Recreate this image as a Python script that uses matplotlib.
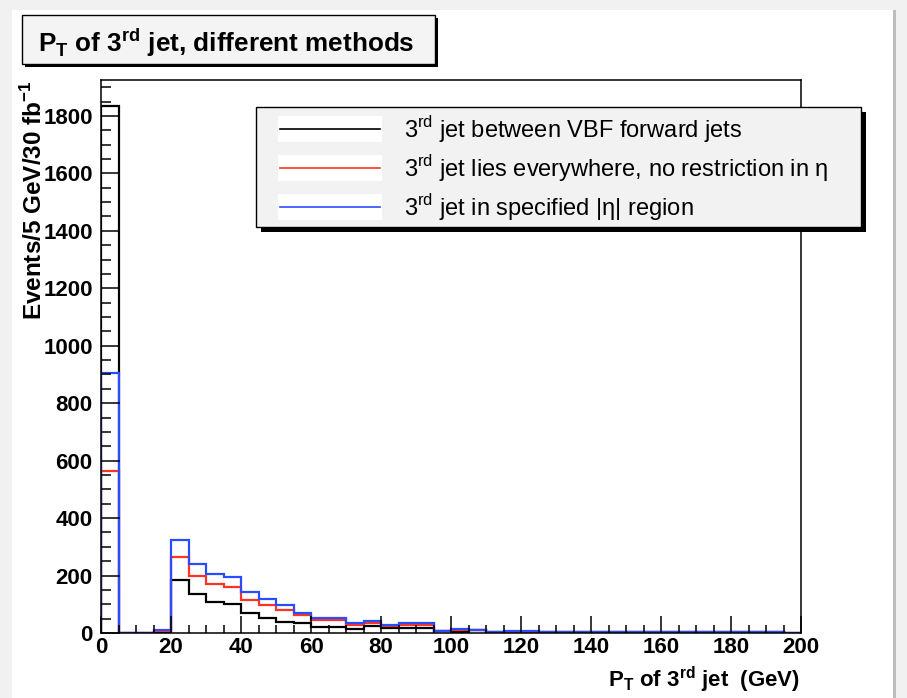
"""
P_T of the 3rd jet for three selection methods, ROOT-style histogram.
"""

import numpy as np
import matplotlib
matplotlib.use("Agg")
import matplotlib.pyplot as plt
from matplotlib.patches import Rectangle
from matplotlib.lines import Line2D
from matplotlib.ticker import MultipleLocator

plt.rcParams["font.family"] = ["Liberation Sans", "DejaVu Sans"]

# Binning (GeV)
BIN_WIDTH = 5
PT_MIN, PT_MAX = 0, 200

# Events / 5 GeV / 30 fb^-1, one value per bin (0-5, 5-10, ..., 195-200)
between_vbf = [1833, 0, 0, 4, 184, 137, 108, 102, 70, 52,
               40, 35, 21, 21, 14, 23, 17, 17, 17, 6,
               5, 10, 2, 5, 5, 2, 2, 5, 2, 2,
               2, 2, 2, 2, 2, 2, 2, 2, 2, 0]
everywhere = [563, 0, 0, 8, 263, 200, 171, 160, 116, 99,
              81, 64, 46, 46, 29, 35, 26, 29, 29, 8,
              10, 12, 5, 5, 5, 3, 3, 3, 3, 3,
              3, 3, 3, 3, 3, 3, 3, 5, 5, 0]
eta_region = [904, 0, 0, 12, 325, 241, 206, 195, 144, 120,
              99, 70, 52, 52, 35, 41, 29, 35, 35, 6,
              14, 12, 5, 6, 6, 2, 2, 2, 2, 2,
              2, 2, 2, 2, 2, 2, 2, 3, 3, 0]

series_labels = [
    r"3$^{\mathregular{rd}}$ jet between VBF forward jets",
    r"3$^{\mathregular{rd}}$ jet lies everywhere, no restriction in η",
    r"3$^{\mathregular{rd}}$ jet in specified |η| region",
]
series_colors = ["black", "#ff3320", "#2a4cff"]

W, H = 907, 698
fig = plt.figure(figsize=(W / 100, H / 100), dpi=100, facecolor="#f1f1f1")


def px_rect(x0, y0, x1, y1, **kw):
    """Rectangle given in image pixels (y from the top)"""
    r = Rectangle((x0 / W, 1 - y1 / H), (x1 - x0) / W, (y1 - y0) / H,
                  transform=fig.transFigure, **kw)
    fig.add_artist(r)
    return r


# Canvas frame
px_rect(12, 10, 893, H + 2, facecolor="white", edgecolor="none", zorder=0)
px_rect(893, 10, 896, H + 2, facecolor="#bdbdbd", edgecolor="none", zorder=0)

ax = fig.add_axes([101 / W, 1 - 633 / H, 700 / W, 553 / H])
ax.set_facecolor("white")

edges = np.arange(PT_MIN, PT_MAX + BIN_WIDTH, BIN_WIDTH)
for vals, col in zip([between_vbf, everywhere, eta_region], series_colors):
    ax.stairs(vals, edges, baseline=0, color=col, lw=1.6)

ax.set_xlim(PT_MIN, PT_MAX)
ax.set_ylim(0, 1925)

ax.xaxis.set_major_locator(MultipleLocator(20))
ax.xaxis.set_minor_locator(MultipleLocator(5))
ax.yaxis.set_major_locator(MultipleLocator(200))
ax.yaxis.set_minor_locator(MultipleLocator(50))

ax.tick_params(axis="x", which="major", direction="in", length=12, width=1.1, pad=3)
ax.tick_params(axis="x", which="minor", direction="in", length=6, width=1.1)
ax.tick_params(axis="y", which="major", direction="in", length=14, width=1.1, pad=6)
ax.tick_params(axis="y", which="minor", direction="in", length=7, width=1.1)
for lab in ax.get_xticklabels() + ax.get_yticklabels():
    lab.set_fontweight("bold")
    lab.set_fontsize(16)
for s in ax.spines.values():
    s.set_linewidth(1.1)

# Axis titles
fig.text(800 / W, 1 - 680 / H, r"P$_{\mathregular{T}}$ of 3$^{\mathregular{rd}}$ jet  (GeV)",
         ha="right", va="center", fontsize=16, fontweight="bold")
fig.text(33.5 / W, 1 - 80 / H, r"Events/5 GeV/30 fb$^{\mathregular{-1}}$",
         ha="center", va="top", rotation=90, fontsize=17.5, fontweight="bold")

# Title box
px_rect(25, 18, 438, 67, facecolor="black", edgecolor="none", zorder=5)
px_rect(22, 15, 435, 64, facecolor="#f4f4f4", edgecolor="black", lw=1.0, zorder=6)
fig.text(38 / W, 1 - 52 / H, r"P$_{\mathregular{T}}$ of 3$^{\mathregular{rd}}$ jet, different methods",
         ha="left", va="baseline", fontsize=18.8, fontweight="bold", zorder=7)

# Legend
px_rect(261, 112, 866, 232, facecolor="black", edgecolor="none", zorder=5)
px_rect(256, 107, 861, 227, facecolor="#f2f2f2", edgecolor="black", lw=1.0, zorder=6)
line_y = [129, 168, 207]
for y, col, lab in zip(line_y, series_colors, series_labels):
    px_rect(278, y - 13, 382, y + 13, facecolor="white", edgecolor="none", zorder=7)
    fig.add_artist(Line2D([280 / W, 380 / W], [1 - y / H, 1 - y / H],
                          transform=fig.transFigure, color=col, lw=1.2, zorder=8))
    fig.text(404 / W, 1 - (y + 8.5) / H, lab, ha="left", va="baseline",
             fontsize=17, zorder=8)

fig.savefig("out.png", dpi=100, facecolor=fig.get_facecolor())
